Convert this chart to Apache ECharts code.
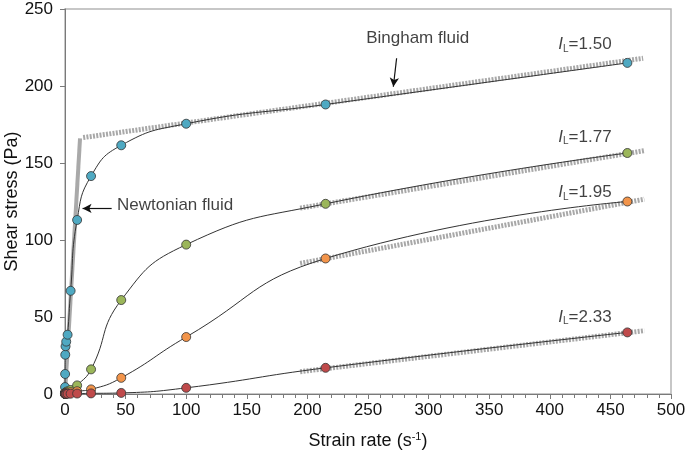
<!DOCTYPE html>
<html><head><meta charset="utf-8">
<script src="https://cdn.jsdelivr.net/npm/echarts/dist/echarts.min.js"></script>
<style>html,body{margin:0;padding:0;background:#fff}#c{width:685px;height:460px}</style>
</head><body><div id="c"></div>
<script>
// Strain rates (s^-1)
const strainRates = [0.01, 0.0215, 0.0464, 0.1, 0.215, 0.464, 1, 2.15, 4.64, 10, 21.5, 46.4, 100, 215, 464];
// Shear stress (Pa) for each liquidity index
const stressIL150 = [0.3, 1, 4.5, 13, 25.5, 31, 34, 38.5, 67, 113, 141.5, 161.5, 175.5, 188, 215];
const stressIL177 = [0.1, 0.2, 0.3, 0.5, 0.7, 1, 1.3, 1.8, 2.6, 5.6, 16, 61, 97, 123.5, 156.5];
const stressIL195 = [0.1, 0.1, 0.2, 0.2, 0.3, 0.4, 0.6, 0.9, 1.2, 1.8, 3, 10.5, 37, 88, 125];
const stressIL233 = [0.05, 0.05, 0.05, 0.1, 0.1, 0.1, 0.1, 0.15, 0.2, 0.3, 0.4, 0.7, 4, 17, 40];
const seriesNames = ['1.50', '1.77', '1.95', '2.33'];
const seriesColors = ['#4fa9c2', '#9bb65a', '#f2944a', '#bf4a4b'];
// Fitted lines (start/end points)
const binghamIL150 = [[15, 166.5], [477, 218]];
const binghamIL177 = [[194, 120.7], [478, 158]];
const binghamIL195 = [[194, 84.8], [478, 126.5]];
const binghamIL233 = [[194, 14.5], [478, 41.1]];
const newtonianFit = [[0, 0], [12.4, 166]];
// Label anchors
const ilLabelPos = [[429, 227], [429, 167], [429, 131], [429, 50]];
const binghamTextPos = [291, 231];
const binghamArrow = [[273.6, 218], [270.9, 199.5]];
const newtonTextPos = [42.9, 122.5];
const newtonArrow = [[38.5, 120.5], [14.5, 120.5]];
// Axis ticks
const xTicks = {min: 0, max: 500, interval: 50};
const yTicks = {min: 0, max: 250, interval: 50};

const FONT = '"Liberation Sans", Arial, sans-serif';
const stressSets = [stressIL150, stressIL177, stressIL195, stressIL233];
const binghams = [binghamIL150, binghamIL177, binghamIL195, binghamIL233];

const series = [];
binghams.forEach(function (b) {
  series.push({
    type: 'line', data: b, symbol: 'none', silent: true, z: 1,
    lineStyle: {color: '#a8a8a8', width: 5, type: [2, 1.3]}
  });
});
series.push({
  type: 'line', data: newtonianFit, symbol: 'none', silent: true, z: 1,
  lineStyle: {color: '#a9a9a9', width: 4}
});
stressSets.forEach(function (s, i) {
  series.push({
    type: 'line', name: seriesNames[i], z: 3,
    data: strainRates.map(function (x, j) { return [x, s[j]]; }),
    smooth: 0.5,
    symbol: 'circle', symbolSize: 9,
    itemStyle: {color: seriesColors[i], borderColor: '#333', borderWidth: 0.8},
    lineStyle: {color: '#333', width: 1}
  });
});
// IL labels
series.push({
  type: 'scatter', symbolSize: 0, silent: true, z: 5,
  data: ilLabelPos.map(function (p, i) { return {value: p, name: seriesNames[i]}; }),
  label: {
    show: true, position: 'inside', color: '#111',
    formatter: function (p) { return '{i|I}{s|L}{n|=' + p.name + '}'; },
    rich: {
      i: {fontFamily: FONT, fontSize: 17, fontStyle: 'italic', color: '#111'},
      s: {fontFamily: FONT, fontSize: 10, color: '#111', verticalAlign: 'bottom', padding: [9, 0, 0, 0]},
      n: {fontFamily: FONT, fontSize: 17, color: '#111'}
    }
  }
});
// Annotations text
series.push({
  type: 'scatter', symbolSize: 0, silent: true, z: 5,
  data: [
    {value: binghamTextPos, name: 'Bingham fluid', label: {align: 'center'}},
    {value: newtonTextPos, name: 'Newtonian fluid', label: {align: 'left'}}
  ],
  label: {show: true, position: 'inside', formatter: '{b}', fontFamily: FONT, fontSize: 17, color: '#111'},
  markLine: {
    silent: true, symbol: ['none', 'arrow'], symbolSize: [7, 9],
    label: {show: false},
    lineStyle: {color: '#111', width: 1.2, type: 'solid'},
    emphasis: {disabled: true},
    data: [
      [{coord: binghamArrow[0]}, {coord: binghamArrow[1]}],
      [{coord: newtonArrow[0]}, {coord: newtonArrow[1]}]
    ]
  }
});

const chart = echarts.init(document.getElementById('c'), null, {renderer: 'canvas'});
chart.setOption({
  animation: false,
  backgroundColor: '#fff',
  grid: {left: 65, right: 14, top: 9, bottom: 66, show: true, borderColor: '#b5b5b5', borderWidth: 1.5,
    backgroundColor: 'transparent', containLabel: false, outerBoundsMode: 'none'},
  xAxis: {
    type: 'value', min: xTicks.min, max: xTicks.max, interval: xTicks.interval,
    name: 'Strain rate (s{sup|-1})', nameLocation: 'middle', nameGap: 37, nameMoveOverlap: false,
    nameTextStyle: {fontFamily: FONT, fontSize: 18, color: '#111',
      rich: {sup: {fontFamily: FONT, fontSize: 11, color: '#111', verticalAlign: 'top', padding: [0, 0, 9, 0]}}},
    axisLine: {lineStyle: {color: '#7a7a7a', width: 1}},
    axisTick: {show: true, inside: false, length: 5, lineStyle: {color: '#7a7a7a'}},
    minorTick: {show: true, splitNumber: 5, length: 4, lineStyle: {color: '#7a7a7a'}},
    splitLine: {show: false},
    axisLabel: {fontFamily: FONT, fontSize: 17, color: '#111', margin: 8}
  },
  yAxis: {
    type: 'value', min: yTicks.min, max: yTicks.max, interval: yTicks.interval,
    name: 'Shear stress (Pa)', nameLocation: 'middle', nameGap: 44, nameRotate: 90, nameMoveOverlap: false,
    nameTextStyle: {fontFamily: FONT, fontSize: 18, color: '#111'},
    axisLine: {show: true, lineStyle: {color: '#7a7a7a', width: 1}},
    axisTick: {show: true, inside: false, length: 5, lineStyle: {color: '#7a7a7a'}},
    splitLine: {show: false},
    axisLabel: {fontFamily: FONT, fontSize: 17, color: '#111', margin: 12}
  },
  series: series
});
</script></body></html>
